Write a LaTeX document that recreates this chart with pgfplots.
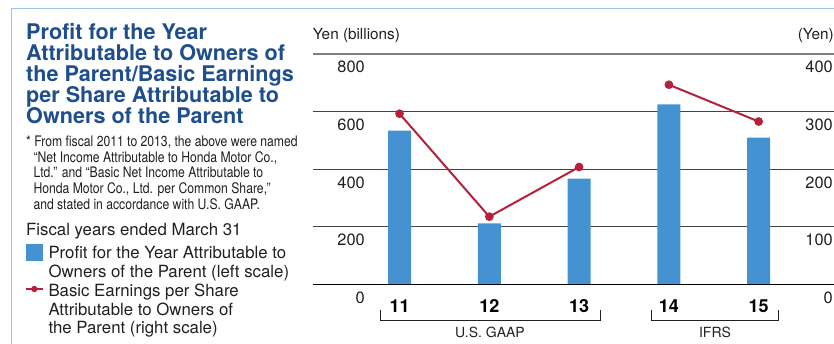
\documentclass[border=0pt]{standalone}
\usepackage{fontspec}
\setmainfont{TeX Gyre Heros}
\newfontfamily\condfont[FakeStretch=0.84]{TeX Gyre Heros}
\usepackage{pgfplots}
\pgfplotsset{compat=1.18}
\definecolor{barblue}{HTML}{4592D2}
\definecolor{epsred}{HTML}{B5213B}
\definecolor{titleblue}{HTML}{1E4E8C}
\definecolor{framec}{HTML}{9DC3E6}
\definecolor{gridc}{HTML}{444444}
\definecolor{txt}{HTML}{231F20}
\begin{document}
\begin{tikzpicture}[x=1pt,y=1pt]
% left axis with bars
\begin{axis}[at={(312.7pt,-284.2pt)}, anchor=south west, scale only axis,
  width=521.3pt, height=230.2pt,
  xmin=-0.967, xmax=4.839, ymin=0, ymax=800,
  axis line style={draw=none}, major tick length=0pt,
  xtick={0,1,2,3,4}, xticklabels={11,12,13,14,15},
  xticklabel style={anchor=base, inner sep=0pt, yshift=-27.8pt, text=black, font=\bfseries\fontsize{18}{18}\selectfont},
  ytick={0,200,400,600,800},
  yticklabel style={anchor=east, inner sep=0pt, xshift=52.3pt, yshift=-13.3pt, text=txt, font=\fontsize{16.4}{16}\selectfont},
  /pgf/number format/assume math mode=true,
  clip=false]
\draw[gridc, line width=1pt] (rel axis cs:0,0.25) -- (rel axis cs:1,0.25);
\draw[gridc, line width=1pt] (rel axis cs:0,0.5) -- (rel axis cs:1,0.5);
\draw[gridc, line width=1pt] (rel axis cs:0,0.75) -- (rel axis cs:1,0.75);
\draw[gray, line width=1.4pt] (rel axis cs:0,1) -- (rel axis cs:1,1);
\addplot[ybar, bar width=23pt, fill=barblue, draw=none] coordinates {(0,534.1) (1,211.4) (2,367.1) (3,624.7) (4,509.4)};
\draw[black, line width=1.4pt] (rel axis cs:0,0) -- (rel axis cs:1,0);
\end{axis}
% right axis with EPS
\begin{axis}[at={(312.7pt,-284.2pt)}, anchor=south west, scale only axis,
  width=521.3pt, height=230.2pt,
  xmin=-0.967, xmax=4.839, ymin=0, ymax=400,
  axis line style={draw=none}, major tick length=0pt,
  xtick=\empty,
  ytick={0,100,200,300,400}, yticklabel pos=right,
  yticklabel style={anchor=east, inner sep=0pt, xshift=-1pt, yshift=-13.3pt, text=txt, font=\fontsize{16.4}{16}\selectfont},
  /pgf/number format/assume math mode=true,
  clip=false]
\addplot[epsred, line width=2pt, mark=*, mark size=3.3pt, mark options={solid, fill=epsred, draw=epsred}] coordinates {(0,296.27) (1,117.34) (2,203.61)};
\addplot[epsred, line width=2pt, mark=*, mark size=3.3pt, mark options={solid, fill=epsred, draw=epsred}] coordinates {(3,346.62) (4,282.66)};
\end{axis}
% frame
\draw[framec, line width=1.5pt] (11.3,-345) -- (11.3,-8.3) -- (835,-8.3);
% title
\begin{scope}[every node/.style={anchor=base west, inner sep=0pt, text=titleblue, font=\bfseries\fontsize{21.6}{21}\selectfont}]
\node at (26,-40) {Profit for the Year};
\node at (26,-61) {Attributable to Owners of};
\node at (26,-82) {the Parent/Basic Earnings};
\node at (26,-103) {per Share Attributable to};
\node at (26,-124) {Owners of the Parent};
\end{scope}
% footnote
\begin{scope}[every node/.style={anchor=base west, inner sep=0pt, text=txt, font=\condfont\fontsize{14.5}{15}\selectfont}]
\node at (26,-147) {* From fiscal 2011 to 2013, the above were named};
\node at (33.3,-162.5) {“Net Income Attributable to Honda Motor Co.,};
\node at (33.3,-178) {Ltd.” and “Basic Net Income Attributable to};
\node at (33.3,-193.6) {Honda Motor Co., Ltd. per Common Share,”};
\node at (33.3,-209.3) {and stated in accordance with U.S. GAAP.};
\end{scope}
\begin{scope}[every node/.style={anchor=base west, inner sep=0pt, text=txt, font=\fontsize{16.8}{17}\selectfont}]
\node at (26,-235.5) {Fiscal years ended March 31};
\node at (48.3,-258.7) {Profit for the Year Attributable to};
\node at (48.3,-277.7) {Owners of the Parent (left scale)};
\node at (48.3,-296) {Basic Earnings per Share};
\node at (48.3,-315) {Attributable to Owners of};
\node at (48.3,-333.3) {the Parent (right scale)};
\end{scope}
\fill[barblue] (26,-244) rectangle (42.7,-260.7);
\draw[epsred, line width=2pt] (26,-289) -- (42.7,-289);
\fill[epsred] (34.3,-289) circle (3.2);
% axis titles
\node[anchor=base west, inner sep=0pt, text=txt, font=\fontsize{15.3}{16}\selectfont] at (312.7,-40) {Yen (billions)};
\node[anchor=base east, inner sep=0pt, text=txt, font=\fontsize{15.3}{16}\selectfont] at (834,-40) {(Yen)};
% brackets
\draw[txt, line width=1pt] (380.7,-310.3) -- (380.7,-320.3) -- (600,-320.3) -- (600,-310.3);
\draw[txt, line width=1pt] (651,-310.3) -- (651,-320.3) -- (778.3,-320.3) -- (778.3,-310.3);
\node[anchor=base, inner sep=0pt, text=txt, font=\fontsize{14}{14}\selectfont] at (490,-337.5) {U.S. GAAP};
\node[anchor=base, inner sep=0pt, text=txt, font=\fontsize{14}{14}\selectfont] at (715,-337.5) {IFRS};
\pgfresetboundingbox
\path[use as bounding box] (0,0) rectangle (834,-344);
\end{tikzpicture}
\end{document}
